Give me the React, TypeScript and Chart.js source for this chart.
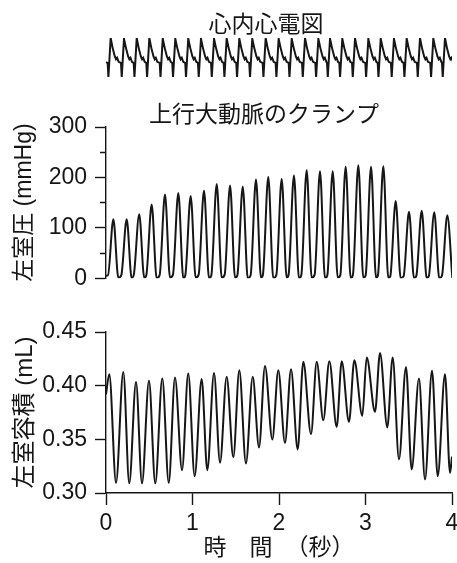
import React, { useEffect, useRef } from 'react';
import { Chart, registerables } from 'chart.js';

Chart.register(...registerables);

// ---------------- data ----------------
// time axis (seconds)
const timeTicks = [0, 1, 2, 3, 4];
const pressureMajorTicks = [0, 100, 200, 300];
const pressureMinorTicks = [50, 150, 250];
const volumeTicks = [0.3, 0.35, 0.4, 0.45];

// intracardiac ECG: R-wave times (s) and relative amplitudes
const ecgRTime = [0.054, 0.208, 0.355, 0.501, 0.656, 0.801, 0.951, 1.098, 1.249, 1.395, 1.541, 1.691, 1.846, 1.996, 2.147, 2.301, 2.455, 2.59, 2.732, 2.879, 3.033, 3.176, 3.329, 3.476, 3.63, 3.784, 3.919];
const ecgRAmp = [1, 0.97, 1, 1, 0.98, 0.97, 0.98, 0.97, 0.97, 0.98, 0.98, 0.97, 1, 0.97, 0.97, 1, 0.97, 0.97, 0.97, 0.98, 0.97, 0.97, 0.97, 0.98, 1, 0.98, 1];
// beat morphology around each R wave: [offset s, value]
const ecgBeatShape: [number, number | null][] = [
  [-0.035, 0.02], [-0.026, -0.54], [0, null], [0.022, 0.62], [0.048, 0.27], [0.062, 0.16], [0.075, 0.22], [0.092, 0.06],
];
const ecgStart = 0.03;

// LV pressure (mmHg): systolic peak times, peak values, pre-beat diastolic and post-beat minimum
const pPeakTime = [0.085, 0.239, 0.384, 0.528, 0.682, 0.836, 0.979, 1.133, 1.28, 1.434, 1.581, 1.734, 1.876, 2.031, 2.173, 2.32, 2.474, 2.621, 2.771, 2.917, 3.064, 3.206, 3.349, 3.503, 3.65, 3.795, 3.946];
const pPeak = [117, 117, 127, 146, 166, 169, 163, 174, 187, 184, 182, 196, 201, 197, 204, 214, 212, 212, 221, 224, 221, 222, 153, 132, 134, 131, 125];
const pDia = [6, 6, 7, 6, 6, 7, 6, 7, 6, 7, 6, 6, 7, 6, 7, 6, 7, 6, 6, 7, 6, 6, 4, 4, 5, 5, 5];
const pMin = [1, 0, 1, 0, 1, 0, 1, 0, 1, 1, 0, 1, 0, 1, 0, 1, 0, 1, 0, 1, 1, 0, 0, 0, 0, 0, 0];
const pRise = 0.062; // upstroke duration (s)
const pFall = 0.058; // downstroke duration (s)
const pStart = 5;

// LV volume (mL): maxima and minima
const vPeakTime = [0.038, 0.2, 0.347, 0.497, 0.651, 0.798, 0.951, 1.106, 1.249, 1.395, 1.541, 1.696, 1.838, 1.992, 2.139, 2.281, 2.436, 2.582, 2.725, 2.871, 3.014, 3.168, 3.314, 3.468, 3.618, 3.769, 3.919];
const vPeak = [0.4107, 0.4128, 0.4035, 0.4045, 0.4067, 0.4076, 0.4114, 0.4061, 0.4119, 0.4082, 0.4144, 0.4082, 0.4184, 0.4144, 0.4154, 0.4222, 0.4222, 0.4228, 0.4228, 0.4237, 0.4263, 0.4305, 0.4263, 0.4175, 0.4067, 0.4138, 0.4107];
const vTroughTime = [0.116, 0.269, 0.416, 0.57, 0.725, 0.879, 1.025, 1.171, 1.318, 1.472, 1.618, 1.769, 1.923, 2.069, 2.216, 2.37, 2.512, 2.667, 2.809, 2.963, 3.11, 3.252, 3.387, 3.534, 3.688, 3.835, 3.977];
const vTrough = [0.3095, 0.309, 0.309, 0.309, 0.3095, 0.3213, 0.3157, 0.3213, 0.3281, 0.3332, 0.3276, 0.3425, 0.3499, 0.3467, 0.3406, 0.3548, 0.3678, 0.3616, 0.3663, 0.3719, 0.3756, 0.3611, 0.3313, 0.322, 0.3127, 0.3157, 0.3188];
const vStart = 0.392;
const vEnd = 0.334;

// ---------------- styling ----------------
const INK = '#161616';
const LATIN = "'Liberation Sans', Arial, Helvetica, sans-serif";
const MIXED = "'Liberation Sans', 'Noto Sans CJK JP', sans-serif";
const TRACE_W = 2;
const AXIS_W = 1.4;

function ecgData() {
  const pts: { x: number; y: number }[] = [{ x: 0, y: ecgStart }];
  ecgRTime.forEach((t, i) => {
    ecgBeatShape.forEach(([dt, v]) => pts.push({ x: t + dt, y: v === null ? ecgRAmp[i] : v }));
  });
  return pts;
}

function pressureData() {
  const pts: { x: number; y: number }[] = [{ x: 0, y: pStart }];
  pPeakTime.forEach((t, i) => {
    pts.push({ x: t - pRise, y: pDia[i] });
    pts.push({ x: t, y: pPeak[i] });
    pts.push({ x: t + pFall, y: pMin[i] });
  });
  return pts;
}

function volumeData() {
  const pts: { x: number; y: number }[] = [{ x: 0, y: vStart }];
  vPeakTime.forEach((t, i) => {
    pts.push({ x: t, y: vPeak[i] });
    pts.push({ x: vTroughTime[i], y: vTrough[i] });
  });
  pts.push({ x: 4, y: vEnd });
  return pts;
}

function caption(id: string, text: string, x: number, y: number, size: number) {
  return {
    id,
    afterDraw(chart: any) {
      const ctx = chart.ctx as CanvasRenderingContext2D;
      ctx.save();
      ctx.font = `${size}px 'Noto Sans CJK JP', sans-serif`;
      ctx.fillStyle = INK;
      ctx.textAlign = 'center';
      ctx.textBaseline = 'middle';
      ctx.fillText(text, x, y);
      ctx.restore();
    },
  };
}

const common = {
  responsive: false,
  animation: false as const,
  events: [] as any[],
  plugins: { legend: { display: false }, tooltip: { enabled: false }, title: { display: false } },
};

const lineDs = (data: any[], mode: 'monotone' | 'default', tension: number) => ({
  data,
  borderColor: INK,
  borderWidth: TRACE_W,
  pointRadius: 0,
  fill: false,
  tension,
  cubicInterpolationMode: mode,
});

const hiddenX = { type: 'linear' as const, min: 0, max: 4, display: false };

export default function App() {
  const ecgRef = useRef<HTMLCanvasElement>(null);
  const prRef = useRef<HTMLCanvasElement>(null);
  const volRef = useRef<HTMLCanvasElement>(null);

  useEffect(() => {
    const charts: Chart[] = [];

    charts.push(
      new Chart(ecgRef.current!, {
        type: 'line',
        data: { datasets: [lineDs(ecgData(), 'default', 0) as any] },
        options: {
          ...common,
          layout: { padding: { left: 106, right: 5, top: 38, bottom: 8 } },
          scales: { x: hiddenX, y: { min: -0.54, max: 1.0, display: false } },
        } as any,
        plugins: [caption('ecgCaption', '心内心電図', 266, 23, 23)],
      })
    );

    charts.push(
      new Chart(prRef.current!, {
        type: 'line',
        data: { datasets: [lineDs(pressureData(), 'monotone', 0.4) as any] },
        options: {
          ...common,
          layout: { padding: { left: 0, right: 5, top: 42, bottom: 17 } },
          scales: {
            x: hiddenX,
            y: {
              type: 'linear',
              min: 0,
              max: 300,
              afterFit: (s: any) => { s.width = 106; },
              afterBuildTicks: (s: any) => {
                s.ticks = [...pressureMajorTicks, ...pressureMinorTicks].sort((a, b) => a - b).map((v) => ({ value: v }));
              },
              ticks: {
                autoSkip: false,
                padding: 8,
                color: INK,
                font: { family: LATIN, size: 23 },
                callback: (v: any) => (pressureMajorTicks.includes(Number(v)) ? String(v) : ''),
              },
              grid: {
                drawOnChartArea: false,
                tickLength: 11,
                tickColor: INK,
                tickWidth: AXIS_W,
                tickBorderDash: (ctx: any) => (ctx.tick && !pressureMajorTicks.includes(ctx.tick.value) ? [0, 5, 6, 40] : []),
              },
              border: { display: true, color: INK, width: AXIS_W },
              title: {
                display: true,
                text: '左室圧 (mmHg)',
                color: INK,
                font: { family: MIXED, size: 23 },
                padding: { top: 11, bottom: 0 },
              },
            },
          },
        } as any,
        plugins: [caption('prCaption', '上行大動脈のクランプ', 264, 28, 23)],
      })
    );

    charts.push(
      new Chart(volRef.current!, {
        type: 'line',
        data: { datasets: [lineDs(volumeData(), 'monotone', 0.4) as any] },
        options: {
          ...common,
          layout: { padding: { left: 0, right: 5, top: 32, bottom: 0 } },
          scales: {
            x: {
              type: 'linear',
              min: 0,
              max: 4,
              afterFit: (s: any) => { s.height = 70; s.paddingLeft = 0; s.paddingRight = 0; },
              afterBuildTicks: (s: any) => { s.ticks = timeTicks.map((v) => ({ value: v })); },
              ticks: { autoSkip: false, maxRotation: 0, padding: 5, color: INK, font: { family: LATIN, size: 23 } },
              grid: { drawOnChartArea: false, tickLength: 12, tickColor: INK, tickWidth: AXIS_W },
              border: { display: true, color: INK, width: AXIS_W },
              title: {
                display: true,
                text: '時　間  （秒）',
                color: INK,
                font: { family: MIXED, size: 23 },
                padding: { top: 0, bottom: 1 },
              },
            },
            y: {
              type: 'linear',
              min: 0.3,
              max: 0.45,
              afterFit: (s: any) => { s.width = 106; },
              afterBuildTicks: (s: any) => { s.ticks = volumeTicks.map((v) => ({ value: v })); },
              ticks: {
                autoSkip: false,
                padding: 8,
                color: INK,
                font: { family: LATIN, size: 23 },
                callback: (v: any) => Number(v).toFixed(2),
              },
              grid: { drawOnChartArea: false, tickLength: 11, tickColor: INK, tickWidth: AXIS_W },
              border: { display: true, color: INK, width: AXIS_W },
              title: {
                display: true,
                text: '左室容積 (mL)',
                color: INK,
                font: { family: MIXED, size: 24 },
                padding: { top: 11, bottom: 0 },
              },
            },
          },
        } as any,
      })
    );

    return () => charts.forEach((c) => c.destroy());
  }, []);

  return (
    <div style={{ position: 'absolute', left: 0, top: 0, width: 457, height: 563, background: '#fff', overflow: 'hidden' }}>
      <canvas ref={ecgRef} width={457} height={85} style={{ position: 'absolute', left: 0, top: 0 }} />
      <canvas ref={prRef} width={457} height={215} style={{ position: 'absolute', left: 0, top: 85 }} />
      <canvas ref={volRef} width={457} height={263} style={{ position: 'absolute', left: 0, top: 300 }} />
    </div>
  );
}
